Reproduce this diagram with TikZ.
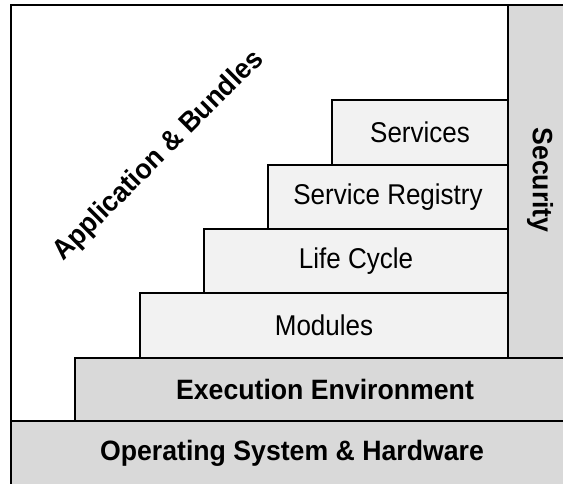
\documentclass[tikz,border=0pt]{standalone}
\usepackage{fontspec}
\setmainfont{Liberation Sans}
\definecolor{lightfill}{HTML}{F2F2F2}
\definecolor{darkfill}{HTML}{D9D9D9}
% slightly tall lettering
\newcommand{\tallreg}[1]{\scalebox{1}[1.1]{#1}}
\newcommand{\tallbold}[1]{\scalebox{1}[1.05]{#1}}
\begin{document}
\begin{tikzpicture}[x=0.75pt,y=-0.75pt,
  layer/.style={draw=black, line width=1.6pt, inner sep=0pt, outer sep=0pt,
    font=\fontsize{19.5}{22}\selectfont},
  upper/.style={layer, fill=lightfill},
  lower/.style={layer, fill=darkfill, font=\fontsize{20}{22}\selectfont\bfseries},
  caption/.style={font=\fontsize{20}{22}\selectfont\bfseries, inner sep=0pt}]
\useasboundingbox (0,0) rectangle (563,483);
\clip (0,0) rectangle (563,483);

% application area frame
\node[layer, fill=white, minimum width=564*0.75pt, minimum height=485*0.75pt]
  (app) at (293,247.5) {};
\node[caption, rotate=45] (applabel) at (159,156) {\tallbold{Application \& Bundles}};

% security column on the right
\node[lower, minimum width=67*0.75pt, minimum height=353*0.75pt]
  (security) at (541.5,181.5) {};
\node[caption, rotate=-90] (seclabel) at (540,180) {\tallbold{Security}};

% framework layers, stacked as stairs
\node[upper, minimum width=176*0.75pt, minimum height=65*0.75pt]
  (services) at (420,132.5) {\tallreg{Services}};
\node[upper, minimum width=240*0.75pt, minimum height=64*0.75pt]
  (registry) at (388,197) {\tallreg{Service Registry}};
\node[upper, minimum width=304*0.75pt, minimum height=64*0.75pt]
  (lifecycle) at (356,261) {\tallreg{Life Cycle}};
\node[upper, minimum width=368*0.75pt, minimum height=65*0.75pt]
  (modules) at (324,325.5) {\tallreg{Modules}};

% base layers
\node[lower, minimum width=500*0.75pt, minimum height=63*0.75pt]
  (exec) at (325,389.5) {\tallbold{Execution Environment}};
\node[lower, minimum width=562*0.75pt, minimum height=64*0.75pt]
  (os) at (292,453) {\tallbold{Operating System \& Hardware}};
\end{tikzpicture}
\end{document}
